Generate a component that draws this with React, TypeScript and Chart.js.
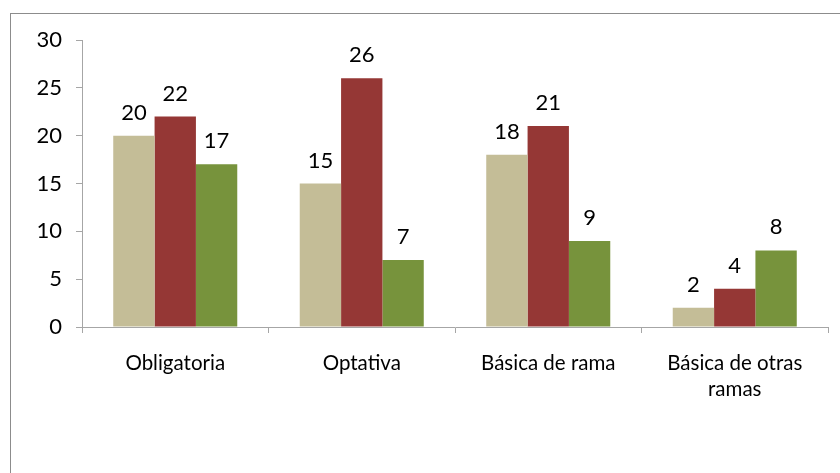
import React, { useEffect, useRef } from "react";
import { Chart, registerables } from "chart.js";

Chart.register(...registerables);

const categories: (string | string[])[] = [
  "Obligatoria",
  "Optativa",
  "Básica de rama",
  ["Básica de otras", "ramas"],
];
const series1 = [20, 15, 18, 2];
const series2 = [22, 26, 21, 4];
const series3 = [17, 7, 9, 8];
const yTicks = [0, 5, 10, 15, 20, 25, 30];

const FONT = "Lato, 'Open Sans', sans-serif";
const AXIS_COLOR = "#a6a6a6";

const dataLabels = {
  id: "dataLabels",
  afterDatasetsDraw(chart: any) {
    const ctx = chart.ctx;
    ctx.save();
    ctx.font = `22px ${FONT}`;
    ctx.fillStyle = "#000";
    ctx.textAlign = "center";
    ctx.textBaseline = "alphabetic";
    chart.data.datasets.forEach((ds: any, i: number) => {
      const meta = chart.getDatasetMeta(i);
      meta.data.forEach((bar: any, j: number) => {
        ctx.fillText(String(ds.data[j]), bar.x, bar.y - 16);
      });
    });
    ctx.restore();
  },
};

export default function App() {
  const ref = useRef<HTMLCanvasElement>(null);
  useEffect(() => {
    if (!ref.current) return;
    const chart = new Chart(ref.current, {
      type: "bar",
      data: {
        labels: categories,
        datasets: [
          { label: "A", data: series1, backgroundColor: "#C4BD97" },
          { label: "B", data: series2, backgroundColor: "#953735" },
          { label: "C", data: series3, backgroundColor: "#77933C" },
        ],
      },
      options: {
        responsive: false,
        animation: false,
        devicePixelRatio: 1,
        layout: { padding: { top: 40, right: 12, left: 0, bottom: 0 } },
        plugins: { legend: { display: false }, tooltip: { enabled: false } },
        datasets: { bar: { categoryPercentage: 0.665, barPercentage: 1 } },
        scales: {
          x: {
            grid: {
              display: true,
              drawOnChartArea: false,
              drawTicks: true,
              tickLength: 6,
              color: AXIS_COLOR,
              offset: true,
            },
            border: { display: true, color: AXIS_COLOR, width: 1 },
            ticks: {
              color: "#000",
              font: { family: FONT, size: 20.5, lineHeight: 1.27 },
              padding: 17,
              maxRotation: 0,
              autoSkip: false,
            },
            afterFit(scale: any) {
              scale.height = 146;
            },
          },
          y: {
            min: 0,
            max: 30,
            afterBuildTicks(scale: any) {
              scale.ticks = yTicks.map((v) => ({ value: v }));
            },
            grid: {
              display: true,
              drawOnChartArea: false,
              drawTicks: true,
              tickLength: 6,
              color: AXIS_COLOR,
            },
            border: { display: true, color: AXIS_COLOR, width: 1 },
            ticks: {
              color: "#000",
              font: { family: FONT, size: 22 },
              padding: 14,
            },
            afterFit(scale: any) {
              scale.width = 82;
            },
          },
        },
      },
      plugins: [dataLabels],
    });
    return () => chart.destroy();
  }, []);

  return (
    <div
      style={{
        position: "fixed",
        left: 0,
        top: 0,
        width: 840,
        height: 473,
        background: "#fff",
        overflow: "hidden",
      }}
    >
      <div
        style={{
          position: "absolute",
          left: 10,
          top: 13,
          width: 900,
          height: 600,
          borderTop: "1px solid #8c8c8c",
          borderLeft: "1px solid #8c8c8c",
        }}
      />
      <canvas
        ref={ref}
        width={840}
        height={473}
        style={{ position: "absolute", left: 0, top: 0, width: 840, height: 473 }}
      />
    </div>
  );
}
